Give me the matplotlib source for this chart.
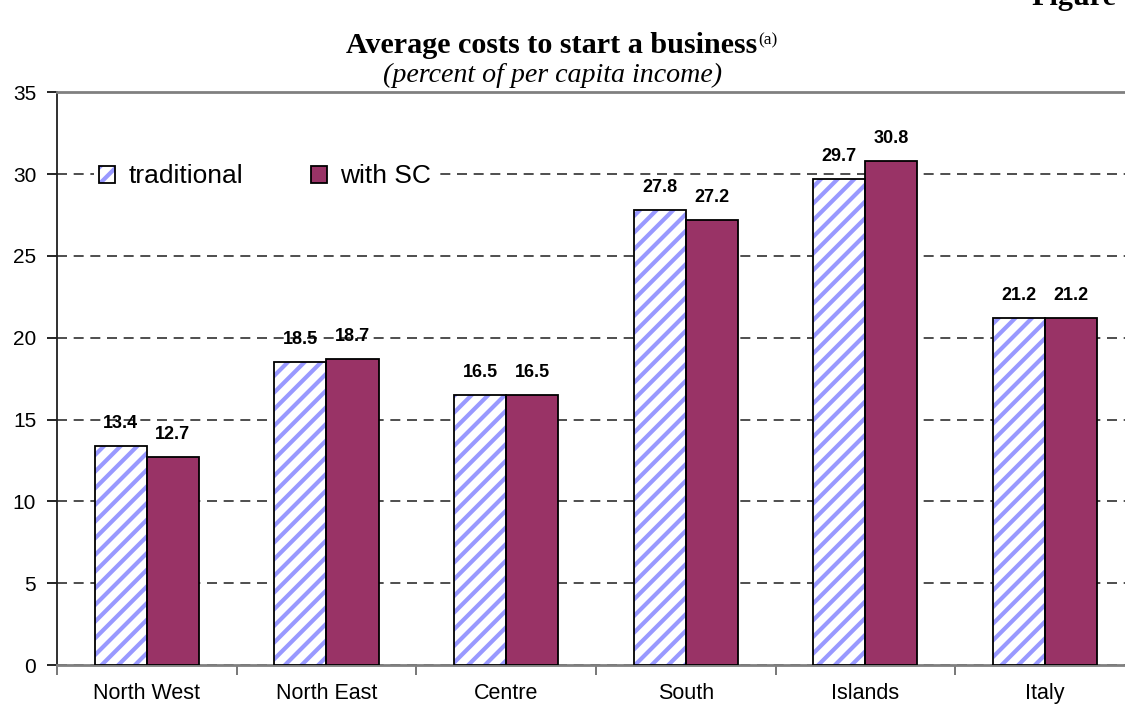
"""
Average costs to start a business — grouped bar chart
"""

import numpy as np
import matplotlib
matplotlib.use('Agg')
import matplotlib.pyplot as plt
from matplotlib.legend_handler import HandlerTuple

# --- data ---
REGIONS     = ['North West', 'North East', 'Centre', 'South', 'Islands', 'Italy']
TRADITIONAL = [13.4, 18.5, 16.5, 27.8, 29.7, 21.2]
WITH_SC     = [12.7, 18.7, 16.5, 27.2, 30.8, 21.2]
SERIES      = ['traditional', 'with SC']
Y_TICKS     = [0, 5, 10, 15, 20, 25, 30, 35]

# --- style ---
MAROON = '#993366'
HATCH_BLUE = '#9999FF'
SANS = ['Liberation Sans', 'DejaVu Sans']
SERIF = ['Liberation Serif', 'DejaVu Serif']

DPI = 100

plt.rcParams['font.family'] = SANS
plt.rcParams['hatch.linewidth'] = 3.0


def main():
    fig = plt.figure(figsize=(1125 / DPI, 708 / DPI), dpi=DPI)
    ax = fig.add_axes([0.0507, 0.0607, 0.958, 0.809])

    x = np.arange(len(REGIONS))
    w = 0.29

    # 斜线柱：先画蓝色斜线，再叠黑色边框
    b1h = ax.bar(x - w / 2, TRADITIONAL, w, facecolor='white', edgecolor=HATCH_BLUE,
                 hatch='//', linewidth=0, zorder=3)
    b1o = ax.bar(x - w / 2, TRADITIONAL, w, facecolor='none', edgecolor='black',
                 linewidth=1.3, zorder=3.5)
    b2 = ax.bar(x + w / 2, WITH_SC, w, facecolor=MAROON, edgecolor='black',
                linewidth=1.3, zorder=3)

    # 数值标签
    for bars, vals in [(b1o, TRADITIONAL), (b2, WITH_SC)]:
        for rect, v in zip(bars, vals):
            ax.annotate(f'{v:.1f}', (rect.get_x() + rect.get_width() / 2, v),
                        xytext=(0, 10), textcoords='offset points',
                        ha='center', va='bottom', fontsize=13, fontweight='bold',
                        zorder=5)

    ax.set_ylim(0, 35)
    ax.set_xlim(-0.5, len(REGIONS) - 0.5)
    ax.set_yticks(Y_TICKS)
    ax.set_yticklabels([str(t) for t in Y_TICKS], fontsize=15)
    ax.tick_params(axis='y', direction='out', length=7, width=1.2, pad=8)

    ax.set_xticks(x)
    ax.set_xticklabels(REGIONS, fontsize=15.5)
    ax.tick_params(axis='x', length=0, pad=13)
    ax.set_xticks(np.arange(len(REGIONS) + 1) - 0.5, minor=True)
    ax.tick_params(axis='x', which='minor', direction='out', length=7,
                   width=1.2, color='#606060')

    # 网格线
    ax.yaxis.grid(True, linestyle=(0, (6, 4)), color='#303030', linewidth=1.2, zorder=0)
    ax.set_axisbelow(True)

    ax.spines['right'].set_visible(False)
    ax.spines['top'].set_color('#808080')
    ax.spines['top'].set_linewidth(2)
    ax.spines['bottom'].set_color('#808080')
    ax.spines['bottom'].set_linewidth(2)
    ax.spines['left'].set_color('#202020')
    ax.spines['left'].set_linewidth(1.3)

    leg = ax.legend([(b1h, b1o), b2], SERIES, handler_map={tuple: HandlerTuple(ndivide=1)},
                    loc='center left', bbox_to_anchor=(0.022, 0.853), ncol=2, fontsize=19,
                    frameon=True, facecolor='white', edgecolor='none', framealpha=1,
                    handlelength=0.6, handleheight=0.6, handletextpad=0.5,
                    columnspacing=2.6, borderpad=0.2, fancybox=False)
    leg.set_zorder(4)

    # 标题
    t = fig.text(0.490, 0.936, 'Average costs to start a business', ha='center', va='center',
                 fontsize=21.7, fontweight='bold', family=SERIF)
    fig.text(0.491, 0.893, '(percent of per capita income)', ha='center', va='center',
             fontsize=20.2, style='italic', family=SERIF)
    fig.text(0.917, 0.993, 'Figure', ha='left', va='baseline', fontsize=21.7,
             fontweight='bold', family=SERIF)

    fig.canvas.draw()
    bb = t.get_window_extent().transformed(fig.transFigure.inverted())
    fig.text(bb.x1 + 0.001, bb.y1 - 0.012, '(a)', ha='left', va='center',
             fontsize=12.5, family=SERIF)

    plt.savefig('out.png', dpi=DPI)
    plt.close()


if __name__ == '__main__':
    main()
